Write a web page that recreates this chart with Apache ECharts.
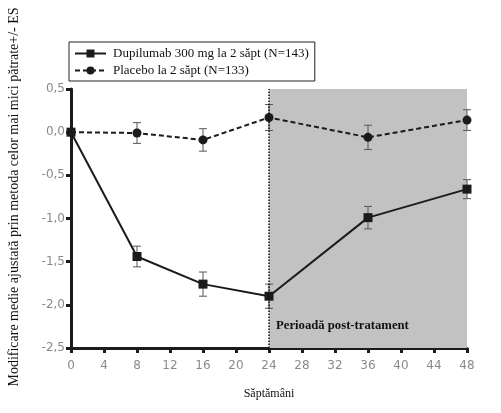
<!DOCTYPE html>
<html>
<head>
<meta charset="utf-8">
<script src="https://cdn.jsdelivr.net/npm/echarts@6/dist/echarts.min.js"></script>
<style>
  html, body { margin: 0; padding: 0; background: #fff; }
  #main { width: 501px; height: 413px; }
</style>
</head>
<body>
<div id="main"></div>
<script>
// saptamani (x) si valorile
var weeks = [0, 8, 16, 24, 36, 48];
var dupiMean = [0.0, -1.44, -1.76, -1.90, -0.99, -0.66];
var dupiErr = [0.0, 0.12, 0.14, 0.14, 0.13, 0.11];
var placMean = [0.0, -0.01, -0.09, 0.17, -0.06, 0.14];
var placErr = [0.0, 0.12, 0.13, 0.15, 0.14, 0.12];
var xTicks = [0, 4, 8, 12, 16, 20, 24, 28, 32, 36, 40, 44, 48];
var yTicks = [0.5, 0.0, -0.5, -1.0, -1.5, -2.0, -2.5];

var serif = '"Liberation Serif", "DejaVu Serif", serif';
var dark = '#1b1b1b';

function pairs(mean) {
  return weeks.map(function (w, i) { return [w, mean[i]]; });
}
function errData(mean, err) {
  return weeks.map(function (w, i) { return [w, mean[i] - err[i], mean[i] + err[i]]; });
}

function renderErr(params, api) {
  var x = api.value(0);
  if (api.value(2) - api.value(1) < 0.001) return;
  var lo = api.coord([x, api.value(1)]);
  var hi = api.coord([x, api.value(2)]);
  var cap = 4;
  var st = { stroke: '#555', lineWidth: 1 };
  return {
    type: 'group',
    children: [
      { type: 'line', shape: { x1: lo[0], y1: lo[1], x2: hi[0], y2: hi[1] }, style: st },
      { type: 'line', shape: { x1: lo[0] - cap, y1: lo[1], x2: lo[0] + cap, y2: lo[1] }, style: st },
      { type: 'line', shape: { x1: hi[0] - cap, y1: hi[1], x2: hi[0] + cap, y2: hi[1] }, style: st }
    ]
  };
}

var chart = echarts.init(document.getElementById('main'));
chart.setOption({
  animation: false,
  grid: { left: 71, right: 34, top: 89, bottom: 65 },
  legend: {
    orient: 'vertical',
    left: 69, top: 42,
    padding: [5, 6, 4, 5],
    itemGap: 4,
    itemWidth: 31, itemHeight: 10,
    borderColor: '#222', borderWidth: 1,
    textStyle: { fontFamily: serif, fontSize: 13, color: '#111', padding: [0, 0, 0, 2] },
    data: ['Dupilumab 300 mg la 2 săpt (N=143)', 'Placebo la 2 săpt (N=133)']
  },
  xAxis: {
    type: 'value', min: 0, max: 48, interval: 4,
    name: 'Săptămâni', nameLocation: 'middle', nameGap: 40,
    nameTextStyle: { fontFamily: serif, fontSize: 12, color: '#111' },
    axisLine: { onZero: false, lineStyle: { color: dark, width: 3 } },
    axisTick: { length: 5, lineStyle: { color: dark, width: 3 } },
    axisLabel: { fontFamily: '"DejaVu Sans", sans-serif', fontSize: 12, color: '#8a8a8a', margin: 12 },
    splitLine: { show: false }
  },
  yAxis: {
    type: 'value', min: -2.5, max: 0.5, interval: 0.5,
    axisLine: { show: true, onZero: false, lineStyle: { color: dark, width: 3 } },
    axisTick: { show: true, length: 5, lineStyle: { color: dark, width: 3 } },
    axisLabel: {
      fontFamily: '"DejaVu Sans", sans-serif', fontSize: 12, color: '#8a8a8a', margin: 6,
      formatter: function (v) { return v.toFixed(1).replace('.', ','); }
    },
    splitLine: { show: false }
  },
  graphic: [{
    type: 'text',
    x: 14, y: 197, rotation: Math.PI / 2,
    style: {
      text: 'Modificare medie ajustată prin metoda celor mai mici pătrate+/- ES',
      font: '14px ' + serif, fill: '#111',
      textAlign: 'center', textVerticalAlign: 'middle'
    }
  }],
  series: [
    {
      name: 'shade', type: 'line', data: [], silent: true,
      markArea: {
        silent: true,
        itemStyle: { color: '#c2c2c2' },
        label: {
          show: true, position: 'insideBottomLeft',
          offset: [2, -11],
          formatter: 'Perioadă post-tratament',
          fontFamily: serif, fontSize: 12.7, fontWeight: 'bold', color: '#111'
        },
        data: [[{ name: 'Perioadă post-tratament', xAxis: 24, yAxis: 0.5 }, { xAxis: 48, yAxis: -2.5 }]]
      },
      markLine: {
        silent: true, symbol: 'none',
        lineStyle: { color: '#111', type: 'dotted', width: 1.5 },
        label: { show: false },
        data: [{ xAxis: 24 }]
      },
      z: 1
    },
    {
      name: 'errD', type: 'custom', renderItem: renderErr,
      data: errData(dupiMean, dupiErr), encode: { x: 0, y: [1, 2] }, z: 3
    },
    {
      name: 'errP', type: 'custom', renderItem: renderErr,
      data: errData(placMean, placErr), encode: { x: 0, y: [1, 2] }, z: 3
    },
    {
      name: 'Dupilumab 300 mg la 2 săpt (N=143)', type: 'line',
      data: pairs(dupiMean),
      symbol: 'rect', symbolSize: 9, showAllSymbol: true,
      lineStyle: { color: dark, width: 2 },
      itemStyle: { color: dark },
      z: 4
    },
    {
      name: 'Placebo la 2 săpt (N=133)', type: 'line',
      data: pairs(placMean),
      symbol: 'circle', symbolSize: 9, showAllSymbol: true,
      lineStyle: { color: dark, width: 2, type: [5, 3] },
      itemStyle: { color: dark },
      z: 4
    }
  ]
});
</script>
</body>
</html>
